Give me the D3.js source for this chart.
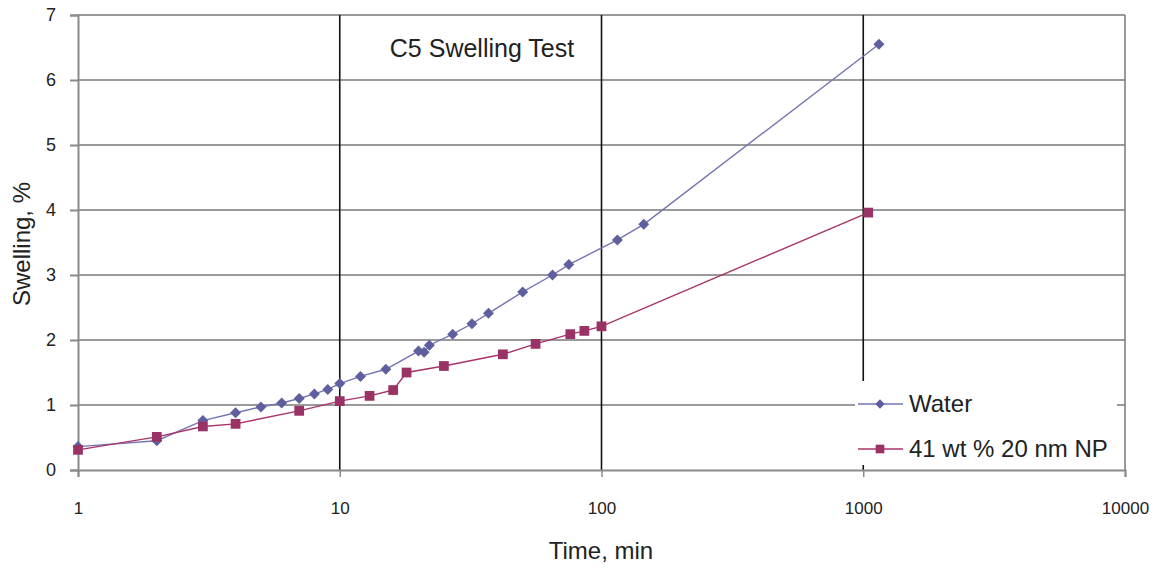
<!DOCTYPE html>
<html><head><meta charset="utf-8">
<script src="https://cdn.jsdelivr.net/npm/d3@7"></script>
<style>html,body{margin:0;padding:0;background:#fff;}svg{display:block;font-family:"Liberation Sans",Arial,sans-serif;}</style>
</head><body>
<script>
const waterTime = [1, 2, 3, 4, 5, 6, 7, 8, 9, 10, 12, 15, 20, 21, 22, 27, 32, 37, 50, 65, 75, 115, 145, 1148];
const waterSwell = [0.36, 0.45, 0.76, 0.88, 0.97, 1.03, 1.10, 1.17, 1.24, 1.33, 1.44, 1.55, 1.83, 1.81, 1.92, 2.09, 2.25, 2.41, 2.74, 3.00, 3.16, 3.54, 3.78, 6.55];
const npTime = [1, 2, 3, 4, 7, 10, 13, 16, 18, 25, 42, 56, 76, 86, 100, 1045];
const npSwell = [0.31, 0.51, 0.67, 0.71, 0.91, 1.06, 1.14, 1.23, 1.50, 1.60, 1.78, 1.94, 2.09, 2.14, 2.21, 3.96];
const xTicks = [1, 10, 100, 1000, 10000];
const yTicks = [0, 1, 2, 3, 4, 5, 6, 7];
const seriesNames = ["Water", "41 wt % 20 nm NP"];
const titleText = "C5 Swelling Test";
const xLabel = "Time, min";
const yLabel = "Swelling, %";

const W = 1159, H = 569;
const L = 78, R = 1125, T = 15, B = 470;
const svg = d3.select("body").append("svg").attr("width", W).attr("height", H);
const x = d3.scaleLog().domain([1, 10000]).range([L, R]);
const y = d3.scaleLinear().domain([0, 7]).range([B, T]);

const squareDiamond = {
  draw(ctx, size) {
    const r = Math.sqrt(size / 2);
    ctx.moveTo(0, -r); ctx.lineTo(r, 0); ctx.lineTo(0, r); ctx.lineTo(-r, 0); ctx.closePath();
  }
};

// horizontal gridlines
svg.append("g").selectAll("line").data(yTicks.filter(d => d > 0)).join("line")
  .attr("x1", L).attr("x2", R).attr("y1", d => y(d)).attr("y2", d => y(d))
  .attr("stroke", "#9a9a9a").attr("stroke-width", 2);
// vertical gridlines
svg.append("g").selectAll("line").data(xTicks.filter(d => d > 1 && d < 10000)).join("line")
  .attr("x1", d => x(d)).attr("x2", d => x(d)).attr("y1", T).attr("y2", B)
  .attr("stroke", "#111").attr("stroke-width", 1.6);
// right border
svg.append("line").attr("x1", R).attr("x2", R).attr("y1", T).attr("y2", B)
  .attr("stroke", "#777").attr("stroke-width", 1.5);

// axes
const yAxis = d3.axisLeft(y).tickValues(yTicks).tickSize(8).tickPadding(14).tickFormat(d3.format("d"));
const gy = svg.append("g").attr("transform", `translate(${L},0)`).call(yAxis);
gy.select(".domain").attr("stroke", "#8a8a8a").attr("stroke-width", 2);
gy.selectAll(".tick line").attr("stroke", "#8a8a8a").attr("stroke-width", 2);
gy.selectAll("text").attr("font-size", 18).attr("fill", "#222").attr("font-family", "Liberation Sans, Arial, sans-serif");

const xAxis = d3.axisBottom(x).tickValues(xTicks).tickSize(7).tickPadding(25).tickFormat(d3.format("d"));
const gx = svg.append("g").attr("transform", `translate(0,${B})`).call(xAxis);
gx.select(".domain").attr("stroke", "#8a8a8a").attr("stroke-width", 2);
gx.selectAll(".tick line").attr("stroke", "#8a8a8a").attr("stroke-width", 1.5);
gx.selectAll("text").attr("font-size", 17).attr("fill", "#222").attr("font-family", "Liberation Sans, Arial, sans-serif");

// legend box (covers gridlines)
svg.append("rect").attr("x", 855).attr("y", 381).attr("width", 262).attr("height", 84).attr("fill", "#fff");

const series = [
  {t: waterTime, v: waterSwell, line: "#7575b3", fill: "#5f5f9f", shape: squareDiamond, size: 60},
  {t: npTime, v: npSwell, line: "#a8336a", fill: "#993366", shape: d3.symbolSquare, size: 95}
];
const lineGen = d3.line().x(d => x(d[0])).y(d => y(d[1]));
series.forEach(s => {
  const pts = s.t.map((t, i) => [t, s.v[i]]);
  svg.append("path").datum(pts).attr("d", lineGen).attr("fill", "none")
    .attr("stroke", s.line).attr("stroke-width", 1.4);
  svg.append("g").selectAll("path").data(pts).join("path")
    .attr("d", d3.symbol().type(s.shape).size(s.size))
    .attr("transform", d => `translate(${x(d[0])},${y(d[1])})`)
    .attr("fill", s.fill);
});

// legend
const leg = svg.append("g");
[404, 449].forEach((ly, i) => {
  const s = series[i];
  leg.append("line").attr("x1", 858).attr("x2", 903).attr("y1", ly).attr("y2", ly)
    .attr("stroke", s.line).attr("stroke-width", 1.4);
  leg.append("path").attr("d", d3.symbol().type(s.shape).size(i === 0 ? 45 : 75))
    .attr("transform", `translate(880,${ly})`).attr("fill", s.fill);
  leg.append("text").attr("x", 909).attr("y", ly).attr("dy", "0.35em")
    .attr("font-size", 24).attr("fill", "#222").text(seriesNames[i]);
});

// title & labels
svg.append("text").attr("x", 482).attr("y", 48).attr("dy", "0.35em").attr("text-anchor", "middle")
  .attr("font-size", 25).attr("fill", "#222").text(titleText);
svg.append("text").attr("x", 601).attr("y", 551).attr("dy", "0.35em").attr("text-anchor", "middle")
  .attr("font-size", 24).attr("fill", "#222").text(xLabel);
svg.append("text").attr("transform", "translate(22,244) rotate(-90)").attr("dy", "0.35em").attr("text-anchor", "middle")
  .attr("font-size", 24).attr("fill", "#222").text(yLabel);
</script>
</body></html>
